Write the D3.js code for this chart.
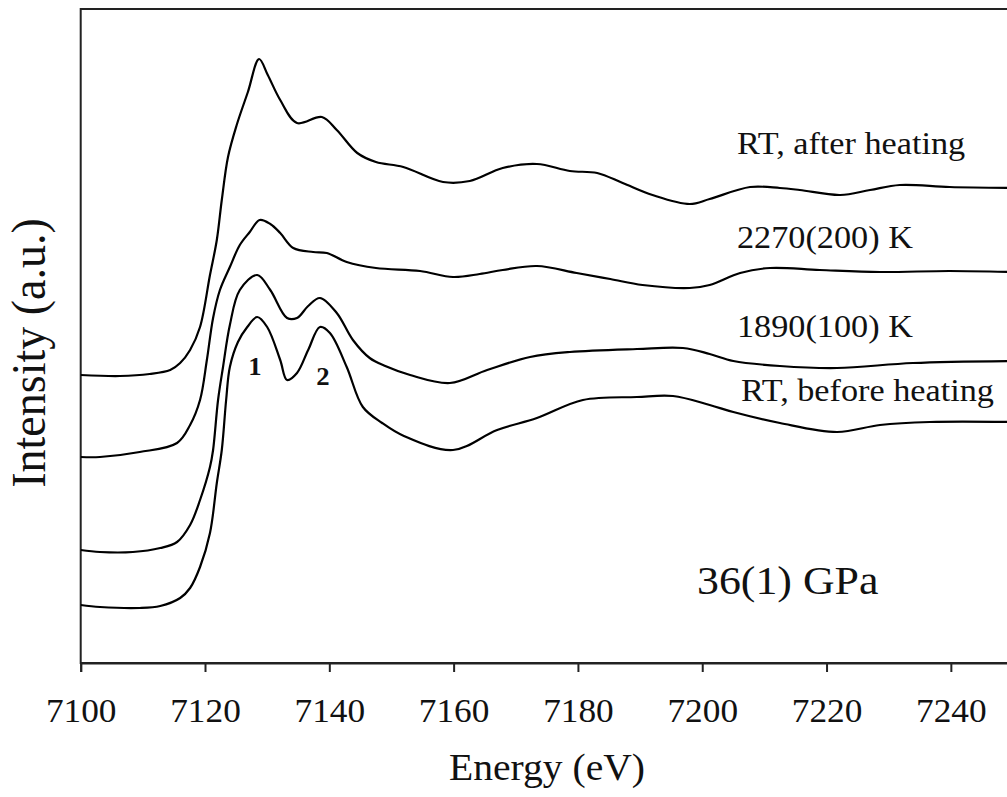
<!DOCTYPE html>
<html>
<head>
<meta charset="utf-8">
<script src="https://cdn.jsdelivr.net/npm/d3@7"></script>
<style>
  body { margin: 0; background: #fff; }
  svg text { font-family: "Liberation Serif", "Times New Roman", serif; fill: #111; }
</style>
</head>
<body>
<svg id="chart" width="1007" height="797"></svg>
<script>
// spectra: energy (eV) and offset intensity (a.u.)
const afterE = [7100, 7106.3, 7111.1, 7114.4, 7116, 7117.6, 7119.2, 7120.8, 7121.9, 7122.7, 7123.7, 7125.1, 7126.9, 7128.7, 7130.1, 7132.1, 7134.8, 7138.8, 7141.2, 7144.5, 7147.5, 7151.9, 7158.3, 7162.6, 7167.9, 7173.4, 7178.7, 7183.1, 7187.2, 7192, 7198, 7201.2, 7207.7, 7212.5, 7215.7, 7222.2, 7227, 7231.8, 7239.8, 7250];
const afterI = [2.88, 2.87, 2.89, 2.93, 3.00, 3.13, 3.36, 3.88, 4.23, 4.63, 5.06, 5.38, 5.71, 6.04, 5.88, 5.63, 5.40, 5.46, 5.33, 5.10, 5.01, 4.96, 4.81, 4.82, 4.95, 4.99, 4.92, 4.90, 4.80, 4.68, 4.59, 4.64, 4.76, 4.75, 4.73, 4.68, 4.73, 4.78, 4.76, 4.75];

const k2270E = [7100, 7103.1, 7109.5, 7115.5, 7117.6, 7119.2, 7120.3, 7121.3, 7122.4, 7124, 7125.6, 7127.2, 7128.8, 7130.5, 7132.1, 7134.2, 7137.4, 7139.6, 7142.8, 7147.5, 7154.6, 7159.9, 7164.2, 7167.9, 7173.4, 7179.8, 7185.2, 7190.4, 7198, 7201.2, 7206.1, 7210.9, 7218.9, 7228.6, 7239.8, 7250];
const k2270I = [2.06, 2.06, 2.11, 2.20, 2.38, 2.63, 3.03, 3.45, 3.73, 3.96, 4.18, 4.31, 4.43, 4.39, 4.30, 4.15, 4.11, 4.10, 4.01, 3.95, 3.92, 3.86, 3.89, 3.93, 3.97, 3.90, 3.84, 3.78, 3.75, 3.78, 3.90, 3.95, 3.93, 3.91, 3.92, 3.91];

const k1890E = [7100, 7103.1, 7108.4, 7112.8, 7115.5, 7117.6, 7119.2, 7120.8, 7121.3, 7122.1, 7122.9, 7124, 7125.6, 7128.4, 7130.5, 7133.2, 7134.8, 7136.6, 7138.5, 7141.2, 7143.8, 7146.5, 7149, 7153, 7159.4, 7165.4, 7172.3, 7178.7, 7189.5, 7196.9, 7201.2, 7205, 7212.5, 7221.7, 7233.9, 7250];
const k1890I = [1.13, 1.11, 1.11, 1.15, 1.21, 1.38, 1.63, 1.96, 2.13, 2.63, 2.96, 3.38, 3.73, 3.88, 3.73, 3.45, 3.45, 3.57, 3.65, 3.50, 3.23, 3.05, 2.97, 2.88, 2.80, 2.93, 3.06, 3.11, 3.14, 3.15, 3.09, 3.02, 2.97, 2.95, 3.00, 3.02];

const beforeE = [7100, 7103.1, 7109.5, 7112.8, 7116, 7117.6, 7119.2, 7120.8, 7121.9, 7122.7, 7123.4, 7124, 7125.3, 7126.8, 7128.4, 7130, 7132.1, 7133.2, 7134.8, 7136.6, 7138.5, 7140.1, 7142.8, 7145.4, 7148.5, 7152, 7159.9, 7167, 7173.4, 7180.8, 7189.5, 7195.3, 7201.2, 7205, 7212.5, 7221.7, 7228.6, 7236.6, 7250];
const beforeI = [0.58, 0.56, 0.55, 0.57, 0.65, 0.75, 0.96, 1.30, 1.80, 2.13, 2.63, 2.96, 3.21, 3.36, 3.46, 3.36, 3.03, 2.83, 2.90, 3.13, 3.36, 3.30, 2.96, 2.56, 2.40, 2.27, 2.13, 2.33, 2.45, 2.63, 2.66, 2.67, 2.58, 2.51, 2.40, 2.31, 2.38, 2.41, 2.41];

const seriesLabels = ['RT, after heating', '2270(200) K', '1890(100) K', 'RT, before heating'];
const xTicks = [7100, 7120, 7140, 7160, 7180, 7200, 7220, 7240];

const svg = d3.select('#chart');
const plotL = 80.7, plotR = 1013, plotT = 9, plotB = 663;
const sx = 1.07; // the original lettering is a bit wide

let x = d3.scaleLinear().domain([7100, 7250]).range([plotL, plotR]);
let y = d3.scaleLinear().domain([0, 6.54]).range([plotB, plotT]);

function label(px, py, str, size, opts = {}){
  let rot = opts.rotate ? ' rotate(-90) scale(1,' + sx + ')' : ' scale(' + sx + ',1)';
  return svg.append('text')
     .attr('transform', 'translate(' + px + ',' + py + ')' + rot)
     .attr('text-anchor', opts.anchor || 'start')
     .attr('font-size', size + 'px')
     .attr('font-weight', opts.bold ? 'bold' : 'normal')
     .text(str);
}

svg.append('defs').append('clipPath').attr('id', 'plotClip')
   .append('rect')
   .attr('x', plotL).attr('y', plotT)
   .attr('width', plotR-plotL).attr('height', plotB-plotT);

// frame
svg.append('rect')
   .attr('x', plotL).attr('y', plotT)
   .attr('width', plotR-plotL).attr('height', plotB-plotT)
   .attr('fill', 'none')
   .attr('stroke', '#222')
   .attr('stroke-width', 2);

// spectra
let line = d3.line()
  .x(d => x(d[0]))
  .y(d => y(d[1]))
  .curve(d3.curveCatmullRom.alpha(0.5));
let spectra = [[afterE, afterI], [k2270E, k2270I], [k1890E, k1890I], [beforeE, beforeI]];
spectra.forEach(function(s){
  svg.append('path')
     .attr('d', line(d3.zip(s[0], s[1])))
     .attr('clip-path', 'url(#plotClip)')
     .attr('fill', 'none')
     .attr('stroke', '#000')
     .attr('stroke-width', 2.2)
     .attr('stroke-linejoin', 'round');
});

// bottom axis
let axis = svg.append('g')
   .attr('transform', 'translate(0,' + plotB + ')')
   .call(d3.axisBottom(x).tickValues(xTicks).tickSize(9).tickPadding(27).tickFormat(d3.format('d')));
axis.select('.domain').attr('stroke', '#222').attr('stroke-width', 2);
axis.selectAll('.tick line').attr('stroke', '#222').attr('stroke-width', 2);
axis.selectAll('.tick text')
    .attr('font-family', '"Liberation Serif", serif')
    .attr('font-size', '33px')
    .attr('fill', '#111')
    .attr('transform', 'scale(' + sx + ',1)');

// axis titles
label(547, 780, 'Energy (eV)', 37, {anchor: 'middle'});
label(45, 353, 'Intensity (a.u.)', 46, {anchor: 'middle', rotate: true});

// series labels
const labelPos = [[737, 154], [737, 248], [737, 337], [741, 401]];
seriesLabels.forEach((t, i) => label(labelPos[i][0], labelPos[i][1], t, 32));

// peak markers
label(255, 375, '1', 25, {anchor: 'middle', bold: true});
label(323, 385, '2', 25, {anchor: 'middle', bold: true});

label(697, 594, '36(1) GPa', 41);
</script>
</body>
</html>
